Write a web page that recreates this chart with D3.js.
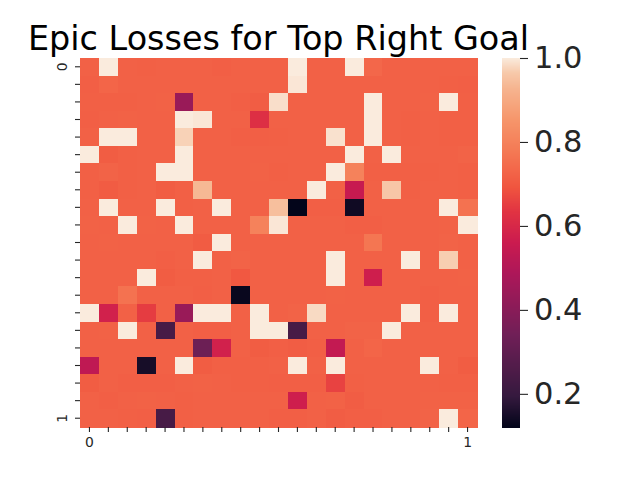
<!DOCTYPE html>
<html>
<head>
<meta charset="utf-8">
<script src="https://cdn.jsdelivr.net/npm/d3@7"></script>
<style>html,body{margin:0;padding:0;background:#fff}svg{display:block}text{font-family:"DejaVu Sans",sans-serif}</style>
</head>
<body>
<svg id="c" width="640" height="480"></svg>
<script>
const titleText = "Epic Losses for Top Right Goal";
const xTickLabels = ["0","","","","","","","","","","","","","","","","","","","","1"];
const yTickLabels = ["0","","","","","","","","","","","","","","","","","","","","1"];
const colorbarTicks = [0.2,0.4,0.6,0.8,1.0];
const valueDomain = [0.121,1.0];
const rocketPositions = [0,0.0833,0.25,0.4167,0.5,0.5833,0.65,0.7,0.75,0.8333,0.9167,0.96,1];
const rocketColors = ["#03051a","#35193e","#701f57","#ad1759","#cb1b4f","#e13342","#f0553f","#f3684a","#f47a55","#f6966b","#f6b48f","#f7c9aa","#faebdd"];
const lossRows = [
[.72,1,.72,.718,.72,.72,.72,.715,.72,.72,.72,1,.72,.72,1,.735,.72,.72,.72,.72,.72],
[.715,.73,.72,.72,.72,.72,.72,.72,.72,.72,.72,.995,.72,.72,.72,.72,.72,.72,.72,.718,.715],
[.718,.718,.718,.72,.722,.44,.72,.72,.715,.712,.987,.72,.72,.72,.72,1,.72,.72,.722,1,.718],
[.715,.72,.722,.72,.72,1,.995,.72,.72,.62,.72,.72,.72,.72,.72,1,.72,.718,.72,.718,.718],
[.72,1,1,.72,.72,.974,.72,.72,.715,.715,.718,.72,.72,.99,.72,1,.72,.718,.72,.718,.718],
[1,.71,.718,.72,.72,1,.72,.72,.72,.72,.72,.72,.72,.72,1,.72,1,.72,.72,.72,.725],
[.718,.725,.718,.72,1,1,.72,.72,.72,.722,.718,.72,.72,1,.8,.718,.718,.718,.718,.72,.718],
[.718,.708,.718,.72,.71,.718,.934,.72,.72,.72,.72,.72,1,.72,.55,.72,.96,.718,.72,.72,.718],
[.72,1,.72,.72,1,.718,.72,1,.72,.72,.947,.12,.715,.715,.14,.72,.72,.72,.72,1,.76],
[.722,.72,1,.722,.72,1,.72,.72,.72,.8,.995,.72,.72,.72,.715,.715,.72,.72,.72,.722,1],
[.72,.722,.72,.72,.72,.72,.708,1,.72,.72,.72,.72,.72,.72,.72,.77,.72,.72,.72,.725,.72],
[.72,.72,.72,.72,.715,.72,1,.72,.725,.72,.72,.72,.72,1,.72,.72,.72,1,.72,.97,.72],
[.72,.72,.72,1,.71,.718,.718,.72,.70,.72,.72,.72,.72,1,.72,.57,.72,.72,.72,.72,.722],
[.72,.72,.76,.72,.72,.72,.715,.72,.13,.72,.72,.72,.72,.722,.72,.72,.72,.72,.715,.72,.72],
[1,.58,.72,.65,.72,.44,1,1,.72,1,.72,.725,.982,.72,.72,.72,.72,1,.715,1,.72],
[.72,.722,1,.72,.24,.72,.715,.715,.72,1,1,.24,.72,.72,.725,.725,1,.72,.72,.72,.72],
[.72,.72,.72,.72,.72,.72,.33,.58,.72,.71,.715,.712,.715,.54,.72,.73,.72,.72,.72,.72,.72],
[.53,.72,.72,.15,.72,1,.71,.718,.718,.718,.72,1,.72,1,.72,.72,.72,.72,1,.72,.71],
[.71,.72,.715,.715,.715,.72,.722,.72,.718,.718,.715,.715,.715,.66,.718,.72,.72,.72,.72,.718,.718],
[.72,.715,.72,.722,.72,.718,.72,.72,.72,.72,.72,.57,.72,.722,.712,.72,.72,.72,.722,.722,.722],
[.72,.72,.718,.715,.24,.718,.72,.72,.72,.72,.715,.715,.72,.712,.715,.715,.72,.72,.725,1,.73]
];

const svg = d3.select("#c");
const plot = {left:80,right:477,top:58,bottom:427};
const bar = {left:502,right:520};
const ink = "#262626";

const x = d3.scaleBand().domain(d3.range(xTickLabels.length)).range([plot.left,plot.right]);
const y = d3.scaleBand().domain(d3.range(yTickLabels.length)).range([plot.top,plot.bottom]);
const color = d3.scaleLinear()
  .domain(rocketPositions.map(p => valueDomain[0] + p*(valueDomain[1]-valueDomain[0])))
  .range(rocketColors).clamp(true);

const cells = lossRows.flatMap((row,r) => row.map((v,c) => ({r,c,v})));
svg.append("g").attr("shape-rendering","crispEdges").selectAll("rect").data(cells).join("rect")
  .attr("x",d=>x(d.c)).attr("y",d=>y(d.r))
  .attr("width",x.bandwidth()+0.5).attr("height",y.bandwidth()+0.5)
  .attr("fill",d=>color(d.v));

function styleAxis(g,size){
  g.select(".domain").remove();
  g.selectAll("line").attr("stroke",ink).attr("stroke-width",1.1);
  g.selectAll("text").attr("fill",ink).attr("font-size",size).attr("font-family",'"DejaVu Sans",sans-serif');
}
const xAxis = svg.append("g").attr("transform",`translate(0,${plot.bottom})`)
  .call(d3.axisBottom(x).offset(0).tickSize(5).tickPadding(5).tickFormat(i=>xTickLabels[i]));
styleAxis(xAxis,13.9);

const yAxis = svg.append("g").attr("transform",`translate(${plot.left},0)`)
  .call(d3.axisLeft(y).offset(0).tickSize(5).tickPadding(8).tickFormat(i=>yTickLabels[i]));
styleAxis(yAxis,13.9);
yAxis.selectAll("text").attr("text-anchor","middle").attr("dy",0)
  .attr("transform",function(){ const px=+d3.select(this).attr("x"); return `translate(${px},0) rotate(-90)`; })
  .attr("x",0);

const cb = d3.scaleLinear().domain([1.0,valueDomain[0]]).range([plot.top,plot.bottom]);
const levels = d3.range(plot.top,plot.bottom);
svg.append("g").attr("shape-rendering","crispEdges").selectAll("rect").data(levels).join("rect")
  .attr("x",bar.left).attr("width",bar.right-bar.left)
  .attr("y",d=>d).attr("height",1.5)
  .attr("fill",d=>color(cb.invert(d+0.5)));
const cbAxis = svg.append("g").attr("transform",`translate(${bar.right},0)`)
  .call(d3.axisRight(cb).tickValues(colorbarTicks).tickSize(8).tickPadding(6).tickFormat(d3.format(".1f")));
styleAxis(cbAxis,30.5);

svg.append("text").attr("x",278.5).attr("y",50).attr("text-anchor","middle")
  .attr("font-size",33.45).attr("fill","#000").text(titleText);
</script>
</body>
</html>
